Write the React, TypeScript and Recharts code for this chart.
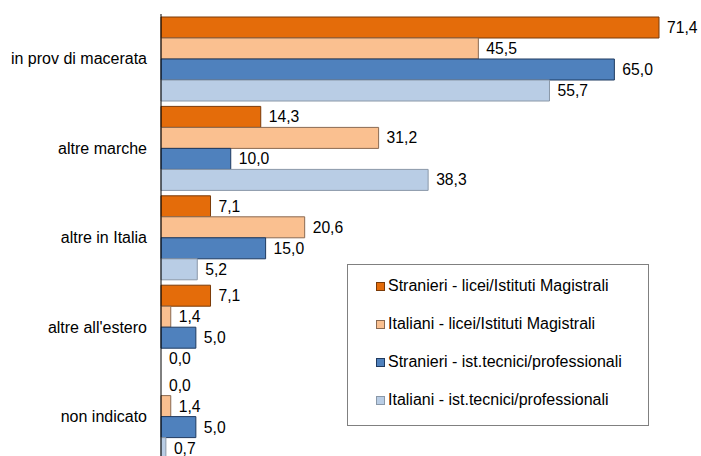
import React from "react";
import { BarChart, Bar, XAxis, YAxis, LabelList, Cell } from "recharts";

if (typeof document !== "undefined") {
  document.documentElement.style.overflow = "hidden";
  document.body.style.overflow = "hidden";
  document.body.style.margin = "0";
}

const categories = ["in prov di macerata", "altre marche", "altre in Italia", "altre all'estero", "non indicato"];
const stranieriLicei = [71.4, 14.3, 7.1, 7.1, 0.0];
const italianiLicei = [45.5, 31.2, 20.6, 1.4, 1.4];
const stranieriTecnici = [65.0, 10.0, 15.0, 5.0, 5.0];
const italianiTecnici = [55.7, 38.3, 5.2, 0.0, 0.7];

const seriesNames = [
  "Stranieri - licei/Istituti Magistrali",
  "Italiani - licei/Istituti Magistrali",
  "Stranieri - ist.tecnici/professionali",
  "Italiani - ist.tecnici/professionali",
];

const series = [
  { key: "s1", name: seriesNames[0], fill: "#E46C0A", stroke: "#7a3a08" },
  { key: "s2", name: seriesNames[1], fill: "#FAC090", stroke: "#8a6a52" },
  { key: "s3", name: seriesNames[2], fill: "#4F81BD", stroke: "#1f3a60" },
  { key: "s4", name: seriesNames[3], fill: "#B9CDE5", stroke: "#8a98a8" },
];

const data = categories.map((c, i) => ({
  name: c,
  s1: stranieriLicei[i],
  s2: italianiLicei[i],
  s3: stranieriTecnici[i],
  s4: italianiTecnici[i],
}));

const fmt = (v: any) => Number(v).toFixed(1).replace(".", ",");

const FONT = "'Liberation Sans', Arial, sans-serif";

const LegendBox = () => (
  <div
    style={{
      position: "absolute",
      left: 339,
      top: 256,
      width: 300,
      height: 158,
      border: "1px solid #808080",
      background: "#fff",
      fontFamily: FONT,
      fontSize: 16,
      color: "#000",
      paddingTop: 2,
      boxSizing: "content-box",
    }}
  >
    {series.map((s) => (
      <div key={s.key} style={{ display: "flex", alignItems: "center", height: 38, paddingLeft: 28, whiteSpace: "nowrap" }}>
        <span
          style={{
            display: "inline-block",
            width: 7,
            height: 7,
            background: s.fill,
            border: `1px solid ${s.stroke}`,
            marginRight: 3,
          }}
        />
        <span>{s.name}</span>
      </div>
    ))}
  </div>
);

export default function App() {
  return (
    <div style={{ position: "relative", width: 693, height: 448, paddingTop: 8, paddingLeft: 8, overflow: "hidden" }}>
      <div style={{ position: "relative", width: 693, height: 453 }}>
        <BarChart
          width={693}
          height={453}
          data={data}
          layout="vertical"
          margin={{ top: 6, right: 42, bottom: 0, left: 0 }}
          barGap={0}
          barSize={21}
          style={{ fontFamily: FONT, overflow: "visible" }}
        >
          <XAxis type="number" domain={[0, 71.4]} hide />
          <YAxis
            type="category"
            dataKey="name"
            width={153}
            tickSize={0}
            tickMargin={14}
            axisLine={{ stroke: "#000", strokeWidth: 1 }}
            tickLine={false}
            tick={{ fill: "#000", fontSize: 16, fontFamily: FONT }}
          />
          {series.map((s) => (
            <Bar
              key={s.key}
              dataKey={s.key}
              name={s.name}
              fill={s.fill}
              stroke={s.stroke}
              strokeWidth={1}
              minPointSize={0.01}
              isAnimationActive={false}
            >
              {data.map((d: any, i) => (
                <Cell key={i} stroke={d[s.key] === 0 ? "none" : s.stroke} />
              ))}
              <LabelList
                dataKey={s.key}
                position="right"
                offset={8}
                formatter={fmt}
                style={{ fill: "#000", fontSize: 15.7, fontFamily: FONT }}
              />
            </Bar>
          ))}
        </BarChart>
        <LegendBox />
      </div>
    </div>
  );
}
